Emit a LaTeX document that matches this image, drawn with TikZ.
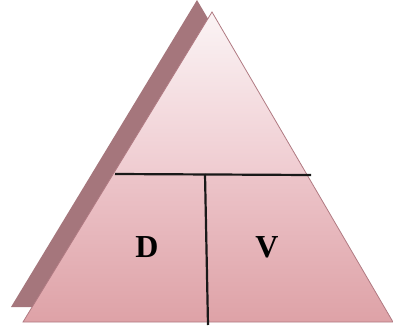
\documentclass[tikz,border=0pt]{standalone}
\usepackage{fontspec}
\setmainfont{Liberation Serif}
\definecolor{shadowc}{HTML}{A5767C}
\definecolor{edgec}{HTML}{B07A82}
\definecolor{topc}{HTML}{FBF4F5}
\definecolor{midc}{HTML}{EFCBD0}
\definecolor{botc}{HTML}{DEA2A7}
\tikzset{
  divider/.style={draw=black!90, line width=2.2pt},
  letter/.style={font=\fontsize{32}{36}\selectfont\bfseries, text=black}
}
\begin{document}
\begin{tikzpicture}[x=1pt,y=-1pt]
\useasboundingbox (0,0) rectangle (393,329);
% shadow triangle
\coordinate (sA) at (197,0);
\coordinate (sL) at (11,307);
\coordinate (sR) at (378,307);
\fill[shadowc] (sA) -- (sL) -- (sR) -- cycle;
% main triangle
\coordinate (A) at (212,12);
\coordinate (L) at (23,322);
\coordinate (R) at (393,322);
\begin{scope}
\clip (A) -- (L) -- (R) -- cycle;
\shade[top color=topc, bottom color=midc] (0,12) rectangle (393,174);
\shade[top color=midc!85!botc, bottom color=botc] (0,174) rectangle (393,322);
\end{scope}
\draw[edgec, line width=0.8pt] (A) -- (L) -- (R) -- cycle;
% dividers
\coordinate (hl) at (115,174);
\coordinate (hr) at (311,175);
\coordinate (vt) at (205,174);
\coordinate (vb) at (208,325);
\draw[divider] (hl) -- (hr);
\draw[divider] (vt) -- (vb);
\node[letter] (D) at (147,247) {D};
\node[letter] (V) at (267,247) {V};
\end{tikzpicture}
\end{document}
